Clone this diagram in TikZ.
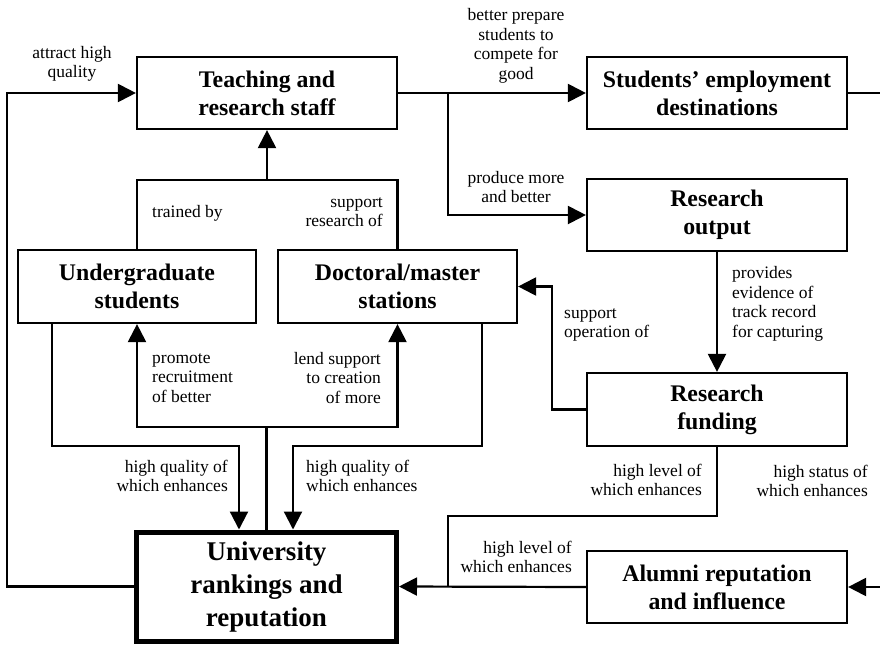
\documentclass[tikz,border=0pt]{standalone}
\usepackage{fontspec}
\setmainfont{Liberation Serif}
\usetikzlibrary{arrows.meta}
\begin{document}
\begin{tikzpicture}[x=1pt,y=-1pt,
  box/.style={draw, line width=2.2pt, minimum width=260pt, minimum height=72pt, align=center, inner sep=0pt,
    font=\fontsize{23.8}{28}\selectfont\bfseries},
  lbl/.style={font=\fontsize{17.5}{19.5}\selectfont, inner sep=0pt},
  conn/.style={line width=2.2pt},
  arr/.style={conn, -{Triangle[length=18pt,width=18pt]}}]
\useasboundingbox (0,0) rectangle (880,645);
\clip (0,0) rectangle (880,645);

% boxes
\node[box] (teach) at (267,93) {Teaching and\\research staff};
\node[box] (emp) at (717,93) {Students’ employment\\destinations};
\node[box] (resout) at (717,215) {Research\\output};
\node[box, minimum width=238pt, minimum height=73pt] (ug) at (137,286.5) {Undergraduate\\students};
\node[box, minimum width=239pt, minimum height=73pt] (doc) at (397.5,286.5) {Doctoral/master\\stations};
\node[box, minimum height=73pt] (fund) at (717,409.5) {Research\\funding};
\node[box] (alum) at (717,587) {Alumni reputation\\and influence};
\node[box, line width=5pt, minimum width=260pt, minimum height=109pt,
  font=\fontsize{27}{33}\selectfont\bfseries] (univ) at (266.5,586.5) {University\\rankings and\\reputation};

% coordinates
\coordinate (L) at (7,93);
\coordinate (B) at (448,93);
\coordinate (R) at (890,93);
\coordinate (T) at (267,180);
\coordinate (S) at (552,0);
\coordinate (F) at (448,516);
\coordinate (q1) at (239,446);
\coordinate (q2) at (293,446);
\coordinate (M) at (266.5,427);

% connectors
\draw[arr] (univ.west) -| (L) -- (teach.west);
\draw[arr] (teach.east) -- (emp.west);
\draw[arr] (B) |- (resout.west);
\draw[arr] (emp.east) -- (R) |- (alum.east);
\draw[arr] (T) -- (teach.south);
\draw[conn] (ug.north) -- (ug.north |- T) -- (doc.north |- T) -- (doc.north);
\draw[arr] (resout.south) -- (fund.north);
\draw[arr] (fund.west) -- (fund.west -| S) |- (doc.east);
\draw[conn] (fund.south) |- (F) -- (F |- alum.west);
\draw[arr] (alum.west) -- (univ.east);
\draw[arr] ([xshift=35pt]ug.south west) |- (q1) -- (q1 |- univ.north);
\draw[arr] ([xshift=-36.5pt]doc.south east) |- (q2) -- (q2 |- univ.north);
\draw[conn] (univ.north) -- (M);
\draw[arr] (M) -| (ug.south);
\draw[arr] (M) -| (doc.south);

% labels
\node[lbl, align=center] (l1) at (72,64) {attract high\\quality};
\node[lbl, align=center] (l2) at (516,46) {better prepare\\students to\\compete for\\good};
\node[lbl, align=center] (l3) at (516,187) {produce more\\and better};
\node[lbl, anchor=west] (l4) at (152,213) {trained by};
\node[lbl, align=right, anchor=east] (l5) at (383,212) {support\\research of};
\node[lbl, align=left, anchor=west] (l6) at (732,304) {provides\\evidence of\\track record\\for capturing};
\node[lbl, align=left, anchor=west] (l7) at (564,325) {support\\operation of};
\node[lbl, align=left, anchor=west] (l8) at (152,378) {promote\\recruitment\\of better};
\node[lbl, align=right, anchor=east] (l9) at (381,378) {lend support\\to creation\\of more};
\node[lbl, align=right, anchor=east] (l10) at (228,476) {high quality of\\which enhances};
\node[lbl, align=left, anchor=west] (l11) at (306,476) {high quality of\\which enhances};
\node[lbl, align=right, anchor=east] (l12) at (702,480) {high level of\\which enhances};
\node[lbl, align=right, anchor=east] (l13) at (868,481) {high status of\\which enhances};
\node[lbl, align=right, anchor=east] (l14) at (572,557) {high level of\\which enhances};
\end{tikzpicture}
\end{document}
